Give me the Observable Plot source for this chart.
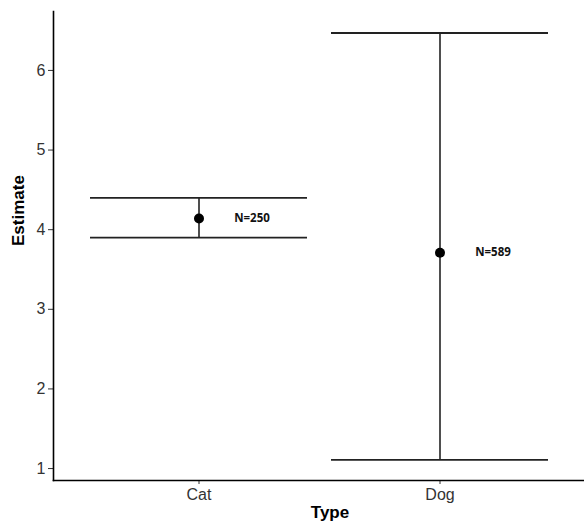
<!DOCTYPE html>
<html>
<head>
<meta charset="utf-8">
<script src="https://cdn.jsdelivr.net/npm/d3@7"></script>
<script src="https://cdn.jsdelivr.net/npm/@observablehq/plot@0.6"></script>
<style>
  body { margin: 0; background: #fff; }
  svg { font-family: "Liberation Sans", Arial, sans-serif; }
</style>
</head>
<body>
<div id="chart"></div>
<script>
const types = ["Cat", "Dog"];
const estimates = [4.14, 3.71];
const lowers = [3.90, 1.11];
const uppers = [4.40, 6.47];
const labels = ["N=250", "N=589"];
const yTicks = [1, 2, 3, 4, 5, 6];

const data = types.map((t, i) => ({
  Type: t, est: estimates[i], lo: lowers[i], hi: uppers[i], n: labels[i]
}));

const chart = Plot.plot({
  width: 584,
  height: 527,
  marginLeft: 53,
  marginRight: 0,
  marginTop: 11,
  marginBottom: 47,
  x: { domain: types, paddingInner: 0.1, paddingOuter: 0.15 },
  y: { domain: [0.85, 6.74] },
  marks: [
    Plot.axisY({ ticks: yTicks, tickFormat: "d", tickSize: 5, tickPadding: 3, fontSize: 16, color: "#333", label: null, stroke: "#333" }),
    Plot.axisX({ tickSize: 4, tickPadding: 4, fontSize: 16, color: "#333", label: null, stroke: "#333" }),
    Plot.ruleX(data, { x: "Type", y1: "lo", y2: "hi", stroke: "#222", strokeWidth: 1.6 }),
    Plot.tickY(data, { x: "Type", y: "lo", stroke: "#222", strokeWidth: 1.8 }),
    Plot.tickY(data, { x: "Type", y: "hi", stroke: "#222", strokeWidth: 1.8 }),
    Plot.dot(data, { x: "Type", y: "est", r: 5, fill: "#000", stroke: "none" }),
    Plot.text(data, { x: "Type", y: "est", text: "n", dx: 53, fontSize: 11.5, fontWeight: "bold", fill: "#111", fontFamily: "Open Sans" }),
    Plot.frame({ anchor: "left", stroke: "#000", strokeWidth: 1.6 }),
    Plot.frame({ anchor: "bottom", stroke: "#000", strokeWidth: 1.6 }),
    Plot.text(["Estimate"], { frameAnchor: "left", rotate: -90, dx: -35, fontSize: 17, fontWeight: "bold", fill: "#000" }),
    Plot.text(["Type"], { frameAnchor: "bottom", dx: 11, dy: 37, fontSize: 17, fontWeight: "bold", fill: "#000" })
  ]
});
document.getElementById("chart").appendChild(chart);
</script>
</body>
</html>
